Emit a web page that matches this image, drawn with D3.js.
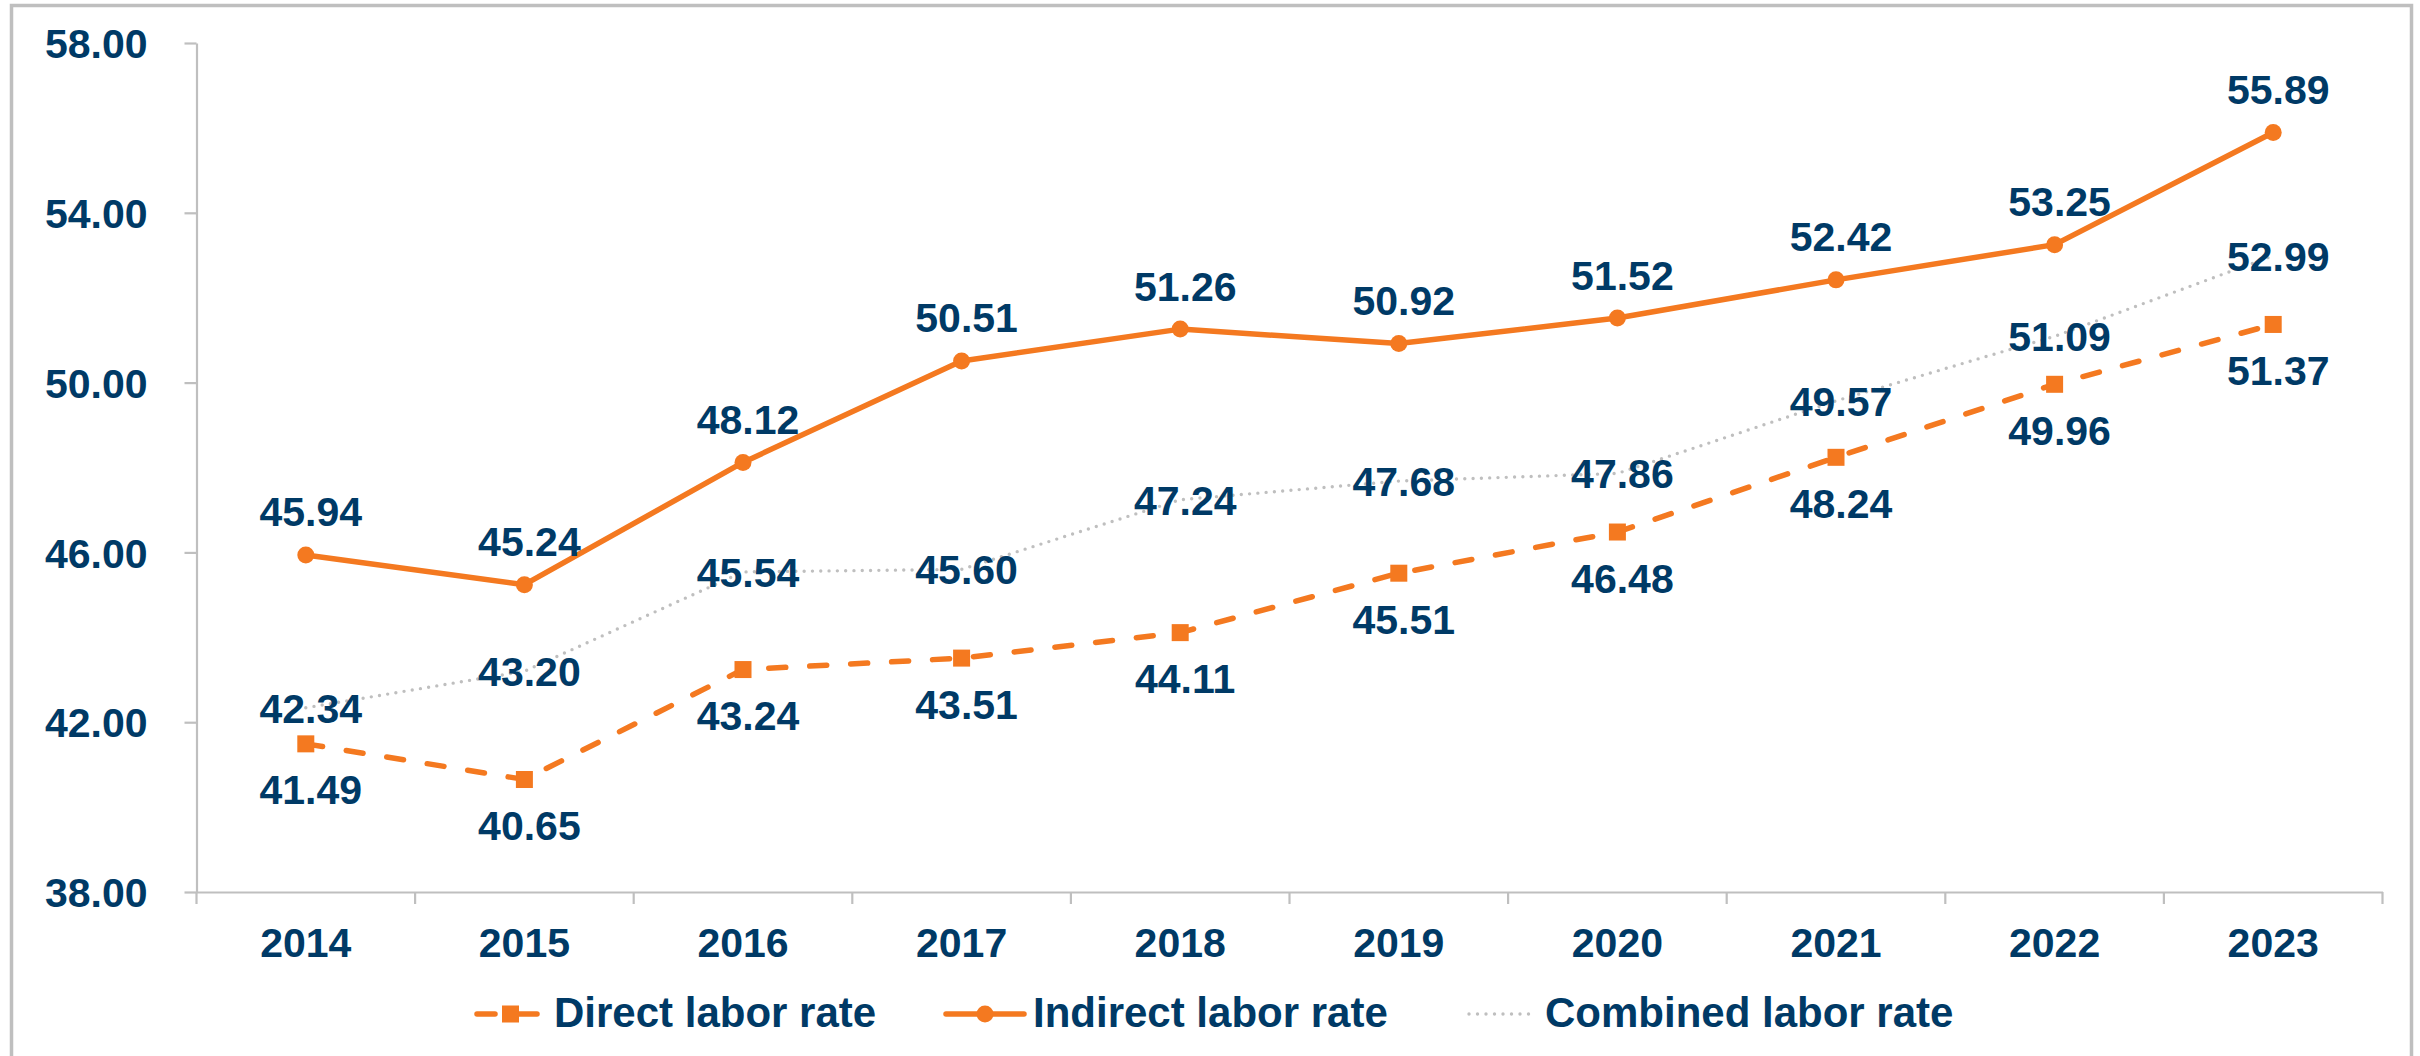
<!DOCTYPE html>
<html>
<head>
<meta charset="utf-8">
<script src="https://cdn.jsdelivr.net/npm/d3@7"></script>
<style>
  html, body { margin: 0; padding: 0; background: #ffffff; }
  svg { display: block; }
  text { font-family: "Liberation Sans", Arial, sans-serif; font-weight: bold; fill: #003a66; }
</style>
</head>
<body>
<svg id="chart" width="2420" height="1056"></svg>
<script>
// ---- Data ----
const years = ["2014","2015","2016","2017","2018","2019","2020","2021","2022","2023"];
const directRate   = [41.49, 40.65, 43.24, 43.51, 44.11, 45.51, 46.48, 48.24, 49.96, 51.37];
const indirectRate = [45.94, 45.24, 48.12, 50.51, 51.26, 50.92, 51.52, 52.42, 53.25, 55.89];
const combinedRate = [42.34, 43.20, 45.54, 45.60, 47.24, 47.68, 47.86, 49.57, 51.09, 52.99];
const seriesNames  = ["Direct labor rate", "Indirect labor rate", "Combined labor rate"];
const yTicks = [38, 42, 46, 50, 54, 58];

// ---- Layout ----
const plot = { left: 196.5, right: 2382.5, top: 43, bottom: 892 };
const ORANGE = "#f47920", GRAY = "#bfbfbf", AXIS = "#bfbfbf", NAVY = "#003a66";
const FS = 41;
// legend layout: symbol start, symbol end, text start (pixels)
const legendSymStart = [475, 944, 1467];
const legendSymEnd   = [539, 1026, 1536];
const legendTextX    = [554, 1033, 1545];

const svg = d3.select("#chart");

// frame
svg.append("rect")
  .attr("x", 11.5).attr("y", 5.5).attr("width", 2400).attr("height", 1100)
  .attr("fill", "none").attr("stroke", "#bfbfbf").attr("stroke-width", 3.5);

const x = d3.scaleBand().domain(years).range([plot.left, plot.right]).padding(0);
const y = d3.scaleLinear().domain([38, 58]).range([plot.bottom, plot.top]);
const cx = d => x(d) + x.bandwidth() / 2;

// Y axis
const yAxis = svg.append("g")
  .attr("transform", `translate(${plot.left},0)`)
  .call(d3.axisLeft(y).tickValues(yTicks).tickSize(12).tickPadding(37)
        .tickFormat(d3.format(".2f")).tickSizeOuter(0));
yAxis.select(".domain").attr("stroke", AXIS).attr("stroke-width", 2.2);
yAxis.selectAll(".tick line").attr("stroke", AXIS).attr("stroke-width", 2.2);
yAxis.selectAll(".tick text")
  .attr("font-size", FS).attr("font-family", "Liberation Sans, Arial, sans-serif")
  .attr("font-weight", "bold").attr("fill", NAVY).attr("dy", "0.36em");

// X axis (labels at band centers, ticks at band boundaries)
const xAxis = svg.append("g")
  .attr("transform", `translate(0,${plot.bottom})`)
  .call(d3.axisBottom(x).tickSize(0).tickPadding(36).tickSizeOuter(0));
xAxis.select(".domain").attr("stroke", AXIS).attr("stroke-width", 2.2);
xAxis.selectAll(".tick text")
  .attr("font-size", FS).attr("font-family", "Liberation Sans, Arial, sans-serif")
  .attr("font-weight", "bold").attr("fill", NAVY);
const boundaries = years.map(d => x(d)).concat([x(years[years.length - 1]) + x.bandwidth()]);
xAxis.selectAll(".bound").data(boundaries).enter().append("line")
  .attr("class", "bound")
  .attr("x1", d => d).attr("x2", d => d).attr("y1", 0).attr("y2", 12)
  .attr("stroke", AXIS).attr("stroke-width", 2.2);

// Series
const line = d3.line().x((d, i) => cx(years[i])).y(d => y(d));

// Direct (dashed + squares)
svg.append("path").datum(directRate).attr("d", line)
  .attr("fill", "none").attr("stroke", ORANGE).attr("stroke-width", 5.5)
  .attr("stroke-linecap", "round").attr("stroke-dasharray", "17 24");
svg.selectAll(".sq").data(directRate).enter().append("rect")
  .attr("class", "sq")
  .attr("x", (d, i) => cx(years[i]) - 8.5).attr("y", d => y(d) - 8.5)
  .attr("width", 17).attr("height", 17).attr("fill", ORANGE);

// Indirect (solid + circles)
svg.append("path").datum(indirectRate).attr("d", line)
  .attr("fill", "none").attr("stroke", ORANGE).attr("stroke-width", 5.5)
  .attr("stroke-linejoin", "round");
svg.selectAll(".ci").data(indirectRate).enter().append("circle")
  .attr("class", "ci")
  .attr("cx", (d, i) => cx(years[i])).attr("cy", d => y(d))
  .attr("r", 8.5).attr("fill", ORANGE);

// Combined (dotted gray)
svg.append("path").datum(combinedRate).attr("d", line)
  .attr("fill", "none").attr("stroke", GRAY).attr("stroke-width", 3.4)
  .attr("stroke-linecap", "round").attr("stroke-dasharray", "0 8.3");

// Data labels
const fmt = d3.format(".2f");
function labels(data, dyPx, cls) {
  svg.selectAll("." + cls).data(data).enter().append("text")
    .attr("class", cls)
    .attr("x", (d, i) => cx(years[i]) + 5)
    .attr("y", d => y(d) + dyPx)
    .attr("text-anchor", "middle").attr("font-size", FS)
    .text(d => fmt(d));
}
labels(directRate, 60.5, "ld");
labels(indirectRate, -28.5, "li");
labels(combinedRate, 15, "lc");

// Legend
const legendY = 1014;
const lg = svg.append("g");
seriesNames.forEach((name, i) => {
  const s = legendSymStart[i], e = legendSymEnd[i], m = (s + e) / 2;
  if (i === 0) {
    lg.append("line").attr("x1", s + 2).attr("x2", m - 12).attr("y1", legendY).attr("y2", legendY)
      .attr("stroke", ORANGE).attr("stroke-width", 5.5).attr("stroke-linecap", "round");
    lg.append("line").attr("x1", m + 8).attr("x2", e - 2).attr("y1", legendY).attr("y2", legendY)
      .attr("stroke", ORANGE).attr("stroke-width", 5.5).attr("stroke-linecap", "round");
    lg.append("rect").attr("x", m - 5).attr("y", legendY - 8.5)
      .attr("width", 17).attr("height", 17).attr("fill", ORANGE);
  } else if (i === 1) {
    lg.append("line").attr("x1", s + 2).attr("x2", e - 2).attr("y1", legendY).attr("y2", legendY)
      .attr("stroke", ORANGE).attr("stroke-width", 5.5).attr("stroke-linecap", "round");
    lg.append("circle").attr("cx", m).attr("cy", legendY).attr("r", 8.5).attr("fill", ORANGE);
  } else {
    lg.append("line").attr("x1", s + 2).attr("x2", e - 2).attr("y1", legendY).attr("y2", legendY)
      .attr("stroke", GRAY).attr("stroke-width", 3.4).attr("stroke-linecap", "round")
      .attr("stroke-dasharray", "0 8.5");
  }
  lg.append("text").attr("x", legendTextX[i]).attr("y", legendY + 13)
    .attr("font-size", 42).text(name);
});
</script>
</body>
</html>
